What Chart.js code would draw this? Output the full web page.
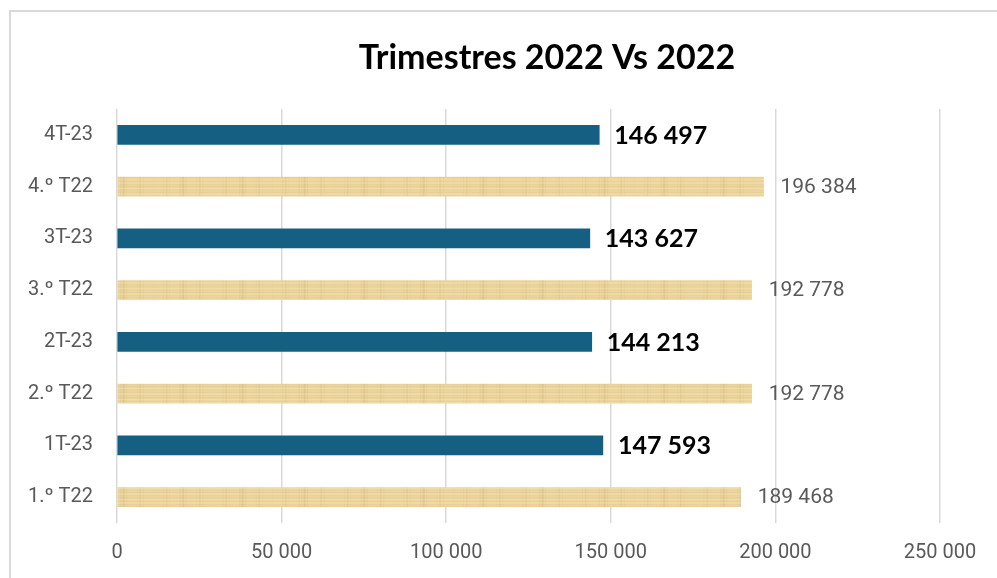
<!DOCTYPE html>
<html>
<head>
<meta charset="utf-8">
<script src="https://cdn.jsdelivr.net/npm/chart.js@4"></script>
<style>
    html, body { margin: 0; padding: 0; background: #ffffff; overflow: hidden; }
    #wrap { position: relative; width: 997px; height: 578px; }
</style>
</head>
<body>
<div id="wrap"><canvas id="myChart" width="997" height="578"></canvas></div>
<script>
const titulo = 'Trimestres 2022 Vs 2022';
const categorias = ['4T-23', '4.º T22', '3T-23', '3.º T22', '2T-23', '2.º T22', '1T-23', '1.º T22'];
const valores = [146497, 196384, 143627, 192778, 144213, 192778, 147593, 189468];
const ticksX = [0, 50000, 100000, 150000, 200000, 250000];

const formato = n => String(n).replace(/\B(?=(\d{3})+(?!\d))/g, ' ');
const es2023 = categorias.map(c => c.includes('-23'));

// textura tipo papiro para las barras de 2022
function crearTextura() {
    const c = document.createElement('canvas');
    c.width = 300;
    c.height = 20;
    const g = c.getContext('2d');
    g.fillStyle = '#edd69e';
    g.fillRect(0, 0, c.width, c.height);
    for (let x = 0; x < c.width; x++) {
        const v = Math.sin(x * 0.37) * Math.sin(x * 0.053 + 1.3) + 0.4 * Math.sin(x * 1.9);
        if (v > 0.3) {
            g.fillStyle = 'rgba(190,160,100,' + ((v - 0.3) * 0.25) + ')';
            g.fillRect(x, 0, 1, c.height);
        }
    }
    for (let y = 0; y < c.height; y++) {
        const w = Math.sin(y * 1.7 + 0.5) * Math.sin(y * 0.6);
        g.fillStyle = w > 0 ? 'rgba(205,178,120,' + (w * 0.22) + ')' : 'rgba(250,236,195,' + (-w * 0.3) + ')';
        g.fillRect(0, y, c.width, 1);
    }
    return g.createPattern(c, 'repeat');
}

const ctx = document.getElementById('myChart').getContext('2d');
const textura = crearTextura();

const borde = {
    id: 'borde',
    beforeDraw(chart) {
        const c = chart.ctx;
        c.save();
        c.strokeStyle = '#d9d9d9';
        c.lineWidth = 2;
        c.strokeRect(10, 11, 1010, 600);
        c.font = 'bold 34px Lato';
        c.fillStyle = '#000000';
        c.textAlign = 'center';
        c.textBaseline = 'middle';
        c.fillText(titulo, 547, 58);
        c.restore();
    }
};

const etiquetas = {
    id: 'etiquetas',
    afterDatasetsDraw(chart) {
        const c = chart.ctx;
        const meta = chart.getDatasetMeta(0);
        c.save();
        c.textBaseline = 'middle';
        c.textAlign = 'left';
        meta.data.forEach((bar, i) => {
            if (es2023[i]) {
                c.font = 'bold 25px Lato';
                c.fillStyle = '#000000';
                c.fillText(formato(valores[i]), bar.x + 15, bar.y + 1);
            } else {
                c.font = '21px Roboto';
                c.fillStyle = '#595959';
                c.fillText(formato(valores[i]), bar.x + 17, bar.y + 1);
            }
        });
        c.restore();
    }
};

new Chart(ctx, {
    type: 'bar',
    data: {
        labels: categorias,
        datasets: [{
            data: valores,
            backgroundColor: es2023.map(b => b ? '#156082' : textura),
            borderWidth: 0,
            barThickness: 19
        }]
    },
    options: {
        indexAxis: 'y',
        responsive: false,
        animation: false,
        layout: { padding: { left: 10, right: 57, top: 109, bottom: 17 } },
        plugins: {
            legend: { display: false },
            tooltip: { enabled: false },
            title: { display: false }
        },
        scales: {
            x: {
                min: 0,
                max: 250000,
                afterBuildTicks: axis => { axis.ticks = ticksX.map(v => ({ value: v })); },
                afterFit: axis => { axis.height = 38; },
                grid: { color: '#d9d9d9', lineWidth: 1.5, drawTicks: false },
                border: { display: false },
                ticks: {
                    color: '#595959',
                    font: { family: 'Roboto', size: 20 },
                    padding: 18,
                    callback: v => formato(v)
                }
            },
            y: {
                grid: { display: false },
                border: { display: false },
                afterFit: axis => { axis.width = 107; },
                ticks: {
                    color: '#595959',
                    font: { family: 'Roboto', size: 20 },
                    padding: 16
                }
            }
        }
    },
    plugins: [borde, etiquetas]
});
</script>
</body>
</html>
